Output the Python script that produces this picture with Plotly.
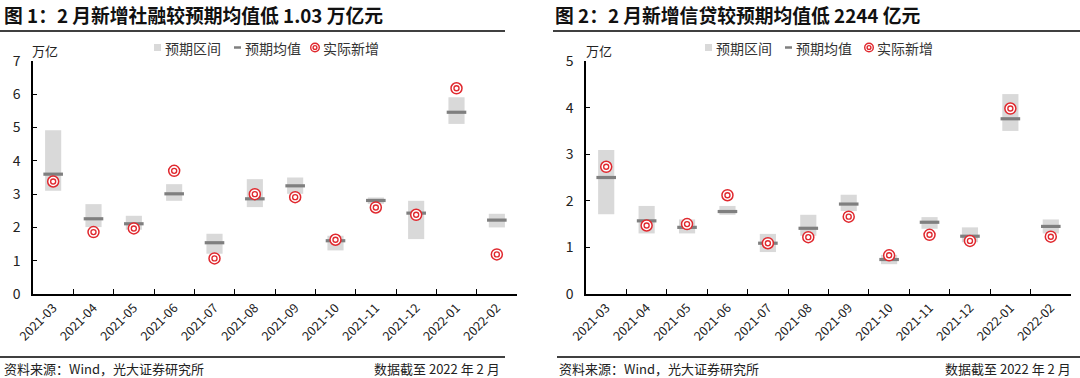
import plotly.graph_objects as go

months = ["2021-03", "2021-04", "2021-05", "2021-06", "2021-07", "2021-08",
          "2021-09", "2021-10", "2021-11", "2021-12", "2022-01", "2022-02"]

# Chart 1: social financing (万亿)
sf_low = [3.10, 2.01, 1.93, 2.80, 1.21, 2.61, 3.01, 1.31, 2.71, 1.65, 5.11, 2.00]
sf_high = [4.92, 2.70, 2.35, 3.30, 1.81, 3.45, 3.50, 1.75, 2.90, 2.80, 5.91, 2.41]
sf_mean = [3.60, 2.26, 2.11, 3.01, 1.54, 2.86, 3.25, 1.60, 2.81, 2.43, 5.46, 2.22]
sf_actual = [3.38, 1.86, 1.97, 3.70, 1.07, 3.00, 2.91, 1.63, 2.60, 2.38, 6.18, 1.19]

# Chart 2: new loans (万亿)
ln_low = [1.71, 1.30, 1.30, 1.70, 0.90, 1.25, 1.78, 0.64, 1.40, 1.11, 3.50, 1.30]
ln_high = [3.09, 1.89, 1.60, 1.89, 1.29, 1.70, 2.13, 0.84, 1.65, 1.43, 4.29, 1.60]
ln_mean = [2.50, 1.57, 1.43, 1.77, 1.09, 1.41, 1.93, 0.74, 1.54, 1.24, 3.76, 1.45]
ln_actual = [2.73, 1.47, 1.50, 2.12, 1.09, 1.22, 1.66, 0.83, 1.27, 1.14, 3.98, 1.23]

legend_names = ["预期区间", "预期均值", "实际新增"]

RANGE_C = "#d9d9d9"
MEAN_C = "#7f7f7f"
RED = "#e0282e"
FONT = "Noto Sans CJK SC"

fig = go.Figure()


def add_panel(low, high, mean, actual, xa, ya):
    fig.add_trace(go.Bar(
        x=months, y=[h - l for h, l in zip(high, low)], base=low,
        width=0.4, marker=dict(color=RANGE_C, line=dict(width=0)),
        name=legend_names[0], xaxis=xa, yaxis=ya, showlegend=False))
    fig.add_trace(go.Scatter(
        x=months, y=mean, mode="markers", name=legend_names[1],
        marker=dict(symbol="line-ew", size=14, line=dict(color=MEAN_C, width=3.2)),
        xaxis=xa, yaxis=ya, showlegend=False))
    fig.add_trace(go.Scatter(
        x=months, y=actual, mode="markers", name=legend_names[2],
        marker=dict(symbol="circle", size=11, color="white", line=dict(color=RED, width=1.5)),
        xaxis=xa, yaxis=ya, showlegend=False))
    fig.add_trace(go.Scatter(
        x=months, y=actual, mode="markers", showlegend=False,
        marker=dict(symbol="circle", size=5, color="white", line=dict(color=RED, width=1.4)),
        xaxis=xa, yaxis=ya))


add_panel(sf_low, sf_high, sf_mean, sf_actual, "x", "y")
add_panel(ln_low, ln_high, ln_mean, ln_actual, "x2", "y2")

H = 378.0
W = 1080.0
ytop = 1 - 61 / H
ybot = 1 - 294 / H

xcommon = dict(type="category", showline=True, linecolor="black", linewidth=1.5,
               ticks="inside", ticklen=5, tickcolor="black", tickwidth=1.3,
               tickson="boundaries", tickangle=-45, range=[-0.5, 11.5],
               showgrid=False, zeroline=False, automargin=False,
               tickfont=dict(family=FONT, size=12.5, color="#222"))
ycommon = dict(showline=True, linecolor="black", linewidth=1.5, ticks="inside",
               ticklen=4, tickcolor="black", tickwidth=1.3, dtick=1,
               showgrid=False, zeroline=False, automargin=False,
               ticklabelstandoff=8,
               tickfont=dict(family=FONT, size=14, color="#222"))

fig.update_layout(
    template="none",
    width=1080, height=378, margin=dict(l=0, r=0, t=0, b=0, autoexpand=False),
    paper_bgcolor="white", plot_bgcolor="white",
    barmode="overlay", showlegend=False,
    xaxis=dict(domain=[33 / W, 517 / W], anchor="y", **xcommon),
    yaxis=dict(domain=[ybot, ytop], anchor="x", range=[0, 7], **ycommon),
    xaxis2=dict(domain=[586 / W, 1071 / W], anchor="y2", **xcommon),
    yaxis2=dict(domain=[ybot, ytop], anchor="x2", range=[0, 5], **ycommon),
)


def px(x):
    return x / W


def py(y):
    return 1 - y / H


annos = [
    dict(text="<b>图 1：2 月新增社融较预期均值低 1.03 万亿元</b>", x=2, y=15, xanchor="left",
         font=dict(family=FONT, size=18.8, color="#111")),
    dict(text="<b>图 2：2 月新增信贷较预期均值低 2244 亿元</b>", x=553, y=15, xanchor="left",
         font=dict(family=FONT, size=18.8, color="#111")),
    dict(text="万亿", x=30, y=51, xanchor="left",
         font=dict(family=FONT, size=13, color="#222")),
    dict(text="万亿", x=584, y=51, xanchor="left",
         font=dict(family=FONT, size=13, color="#222")),
    dict(text="资料来源：Wind，光大证券研究所", x=2, y=368, xanchor="left",
         font=dict(family=FONT, size=13, color="#222")),
    dict(text="数据截至 2022 年 2 月", x=502, y=368, xanchor="right",
         font=dict(family=FONT, size=13, color="#222")),
    dict(text="资料来源：Wind，光大证券研究所", x=557, y=368, xanchor="left",
         font=dict(family=FONT, size=13, color="#222")),
    dict(text="数据截至 2022 年 2 月", x=1073, y=368, xanchor="right",
         font=dict(family=FONT, size=13, color="#222")),
]

# legend (drawn per panel)
LEG_Y = 47.5
for x_sq, x_dash, x_circ in [(154, 234, 315), (705, 785, 869)]:
    fig.add_shape(type="rect", xref="paper", yref="paper",
                  x0=px(x_sq), x1=px(x_sq + 7), y0=py(LEG_Y - 3.5), y1=py(LEG_Y + 3.5),
                  fillcolor=RANGE_C, line=dict(width=0))
    fig.add_shape(type="line", xref="paper", yref="paper",
                  x0=px(x_dash), x1=px(x_dash + 7), y0=py(LEG_Y), y1=py(LEG_Y),
                  line=dict(color=MEAN_C, width=2.5))
    for r in (4.3, 1.9):
        fig.add_shape(type="circle", xref="paper", yref="paper",
                      x0=px(x_circ - r), x1=px(x_circ + r),
                      y0=py(LEG_Y - r), y1=py(LEG_Y + r),
                      fillcolor="white", line=dict(color=RED, width=1.4))
    for name, xt in zip(legend_names, (x_sq + 9, x_dash + 9, x_circ + 6)):
        annos.append(dict(text=name, x=xt, y=LEG_Y, xanchor="left",
                          font=dict(family=FONT, size=14, color="#333")))

for a in annos:
    a = dict(a)
    a["x"] = px(a["x"])
    a["y"] = py(a["y"])
    fig.add_annotation(xref="paper", yref="paper", showarrow=False, yanchor="middle", **a)

for x0, x1, yy in [(0, 505, 31), (553, 1080, 31), (0, 505, 357), (557, 1080, 357)]:
    fig.add_shape(type="line", xref="paper", yref="paper",
                  x0=px(x0), x1=px(x1), y0=py(yy), y1=py(yy),
                  line=dict(color="black", width=1.5))

fig.write_html("out.html", config={"displayModeBar": False},
               post_script="document.body.style.margin='0';document.body.style.overflow='hidden';")
